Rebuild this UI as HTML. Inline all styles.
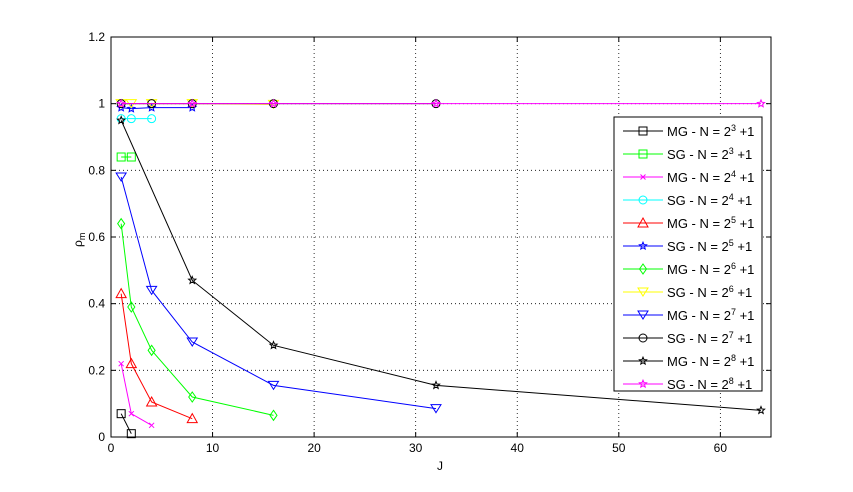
<!DOCTYPE html>
<html><head><meta charset="utf-8"><style>
body{margin:0;background:#fff;}
svg{display:block;font-family:"Liberation Sans",sans-serif;}
</style></head><body>
<svg id="s" width="853" height="492" xmlns="http://www.w3.org/2000/svg"></svg>
<script>
const s=document.getElementById('s');
const X=j=>111+j*10.156, Y=v=>437-v*333.33;
let h='<rect width="853" height="492" fill="#fff"/>';
for(let j=10;j<=60;j+=10)h+=`<line x1="${X(j)}" y1="37" x2="${X(j)}" y2="437" stroke="#000" stroke-width="0.8" stroke-dasharray="1,3"/>`;
for(let v=0.2;v<1.21;v+=0.2)h+=`<line x1="111" y1="${Y(v)}" x2="771" y2="${Y(v)}" stroke="#000" stroke-width="0.8" stroke-dasharray="1,3"/>`;
h+='<rect x="111" y="37" width="660" height="400" fill="none" stroke="#000" stroke-width="1"/>';
for(let j=0;j<=60;j+=10){h+=`<line x1="${X(j)}" y1="437" x2="${X(j)}" y2="432" stroke="#000"/><line x1="${X(j)}" y1="37" x2="${X(j)}" y2="42" stroke="#000"/><text x="${X(j)}" y="452" font-size="12" text-anchor="middle">${j}</text>`;}
for(let i=0;i<=6;i++){let v=i*0.2;h+=`<line x1="111" y1="${Y(v)}" x2="116" y2="${Y(v)}" stroke="#000"/><line x1="771" y1="${Y(v)}" x2="766" y2="${Y(v)}" stroke="#000"/><text x="105" y="${Y(v)+4}" font-size="12" text-anchor="end">${i==0?'0':i==5?'1':v.toFixed(1)}</text>`;}
h+='<text x="440" y="470" font-size="12" text-anchor="middle">J</text>';
h+='<text transform="translate(82,247) rotate(-90)" font-size="12">ρ<tspan font-size="9" dy="3">m</tspan></text>';
function mk(t,x,y,c){
 switch(t){
 case 's':return `<rect x="${x-4}" y="${y-4}" width="8" height="8" fill="none" stroke="${c}"/>`;
 case 'x':return `<path d="M${x-2.5} ${y-2.5}L${x+2.5} ${y+2.5}M${x-2.5} ${y+2.5}L${x+2.5} ${y-2.5}" stroke="${c}"/>`;
 case 'o':return `<circle cx="${x}" cy="${y}" r="4" fill="none" stroke="${c}"/>`;
 case '^':return `<path d="M${x} ${y-5}L${x+5} ${y+4}L${x-5} ${y+4}Z" fill="none" stroke="${c}"/>`;
 case 'v':return `<path d="M${x} ${y+4}L${x+5} ${y-4}L${x-5} ${y-4}Z" fill="none" stroke="${c}"/>`;
 case 'd':return `<path d="M${x} ${y-5}L${x+3.5} ${y}L${x} ${y+5}L${x-3.5} ${y}Z" fill="none" stroke="${c}"/>`;
 case 'p':{let p=[];for(let k=0;k<10;k++){let r=k%2?1.7:3.8,a=-Math.PI/2+k*Math.PI/5;p.push((x+r*Math.cos(a)).toFixed(1)+' '+(y+r*Math.sin(a)).toFixed(1));}return `<path d="M${p.join('L')}Z" fill="none" stroke="${c}"/>`;}
 }}
const S=[
['MG','3','#000','s',[[1,.07],[2,.01]]],
['SG','3','#0f0','s',[[1,.84],[2,.84]]],
['MG','4','#f0f','x',[[1,.22],[2,.07],[4,.035]]],
['SG','4','#0ff','o',[[1,.955],[2,.955],[4,.955]]],
['MG','5','#f00','^',[[1,.43],[2,.22],[4,.105],[8,.055]]],
['SG','5','#00f','p',[[1,.988],[2,.985],[4,.988],[8,.988]]],
['MG','6','#0f0','d',[[1,.64],[2,.39],[4,.26],[8,.12],[16,.065]]],
['SG','6','#ff0','v',[[1,1],[2,1],[4,1],[8,1],[16,.998]]],
['MG','7','#00f','v',[[1,.78],[4,.44],[8,.285],[16,.155],[32,.085]]],
['SG','7','#000','o',[[1,1],[4,1],[8,1],[16,1],[32,1]]],
['MG','8','#000','p',[[1,.95],[8,.47],[16,.275],[32,.155],[64,.08]]],
['SG','8','#f0f','p',[[1,1],[8,1],[16,1],[32,1],[64,1]]],
];
for(const [a,n,c,m,d] of S){
 h+=`<polyline points="${d.map(p=>X(p[0])+','+Y(p[1])).join(' ')}" fill="none" stroke="${c}" stroke-width="1"/>`;
 for(const p of d)h+=mk(m,X(p[0]),Y(p[1]),c);
}
h+='<rect x="614" y="117" width="148" height="274" fill="#fff" stroke="#000"/>';
S.forEach(([a,n,c,m],i)=>{let y=131+i*23;
 h+=`<line x1="623" y1="${y}" x2="663" y2="${y}" stroke="${c}"/>`+mk(m,643,y,c);
 h+=`<text x="667" y="${y+5}" font-size="13">${a} - N = 2<tspan font-size="9" dy="-5">${n}</tspan><tspan dy="5"> +1</tspan></text>`;});
s.innerHTML=h;
</script>
</body></html>
